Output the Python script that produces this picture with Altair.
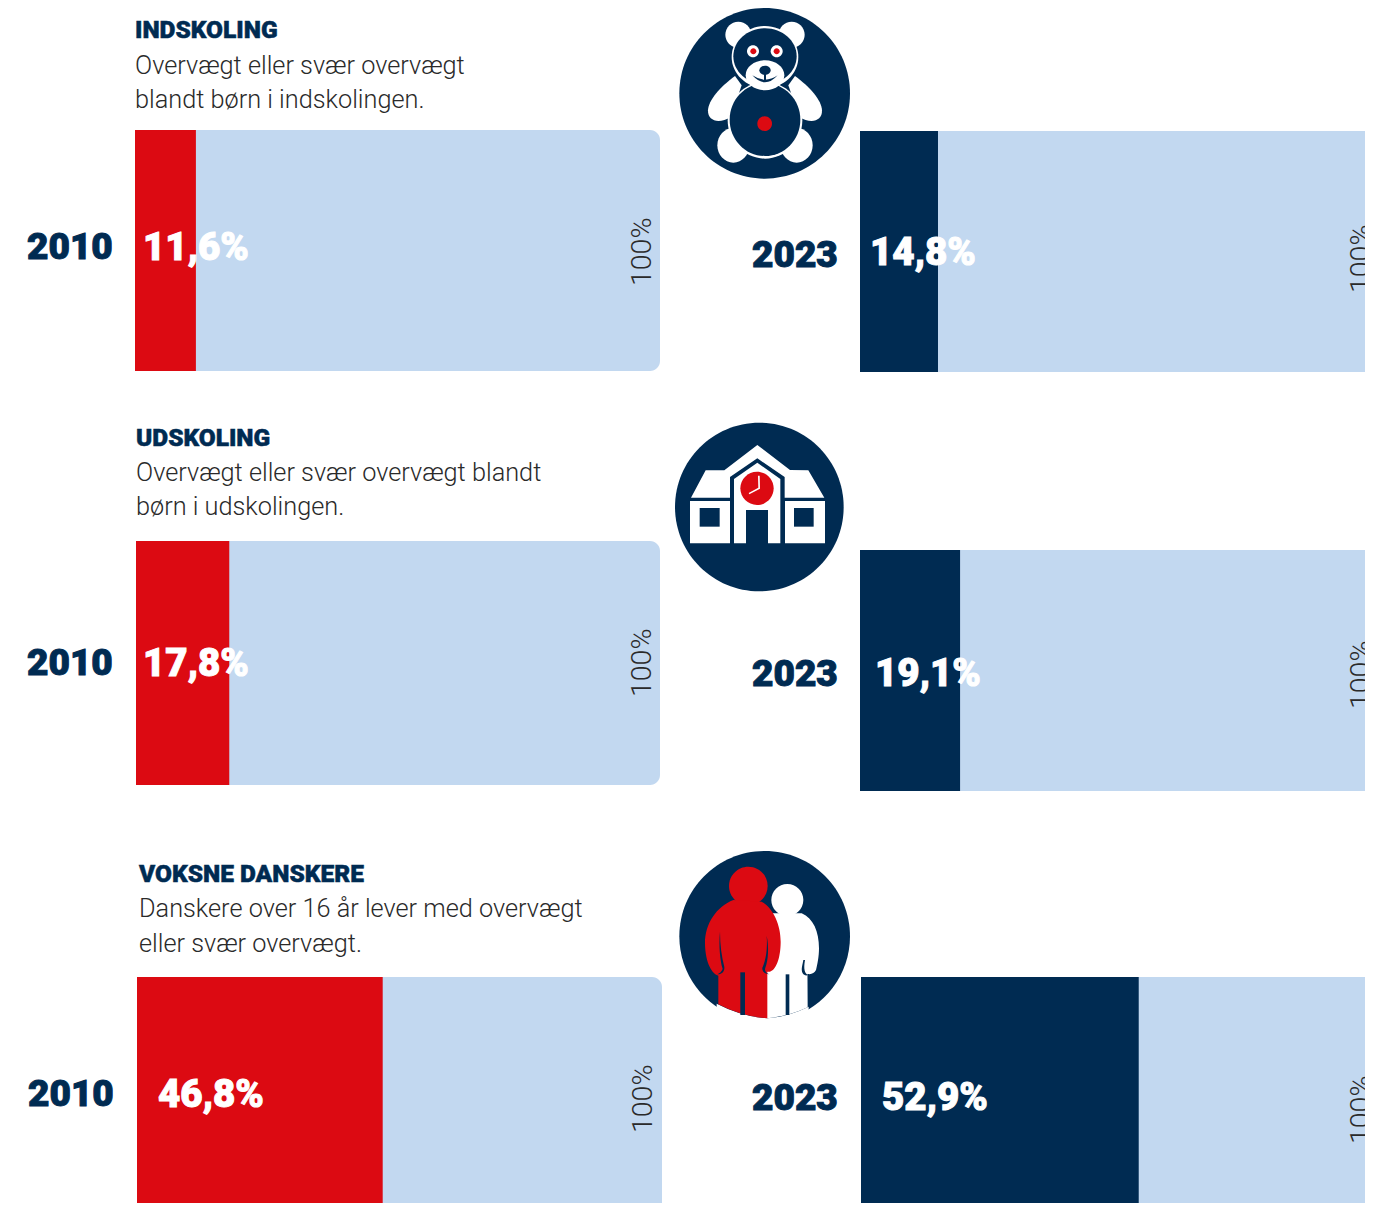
import altair as alt
import pandas as pd

# ---------- data ----------
groups = ["INDSKOLING", "UDSKOLING", "VOKSNE DANSKERE"]
descriptions = [
    ["Overvægt eller svær overvægt", "blandt børn i indskolingen."],
    ["Overvægt eller svær overvægt blandt", "børn i udskolingen."],
    ["Danskere over 16 år lever med overvægt", "eller svær overvægt."],
]
years = ["2010", "2023"]
values_2010 = [11.6, 17.8, 46.8]
values_2023 = [14.8, 19.1, 52.9]
total = 100

# ---------- style ----------
RED = "#DC0A12"
NAVY = "#002B52"
LIGHT = "#C2D8F0"
TEXT = "#2A2A2A"
OFF = 8  # page margin

# ---------- layout (image pixels) ----------
bar_left = [
    dict(x0=135, x1=660, y0=130, y1=371, head=(135, 38), lines=[(135, 74), (135, 108)],
         year=(27, 259), pct=(143, 260), full=(651, 286)),
    dict(x0=136, x1=660, y0=541, y1=785, head=(136, 446), lines=[(136, 481), (136, 515)],
         year=(27, 675), pct=(143, 676), full=(651, 697)),
    dict(x0=137, x1=662, y0=977, y1=1260, head=(139, 882), lines=[(139, 917), (139, 952)],
         year=(28, 1106), pct=(158, 1107), full=(652, 1133)),
]
bar_right = [
    dict(x0=860, x1=1387, y0=131, y1=372, year=(752, 267), pct=(870, 265), full=(1370, 293)),
    dict(x0=860, x1=1384, y0=550, y1=791, year=(752, 686), pct=(875, 686), full=(1370, 709)),
    dict(x0=861, x1=1386, y0=977, y1=1260, year=(752, 1110), pct=(882, 1110), full=(1370, 1144)),
]

one = pd.DataFrame({"a": [0]})
layers = []


def bar(geo, value, color, rounded=False):
    df = pd.DataFrame({"start": [0], "value": [value]})
    opts = dict(color=color, clip=True)
    if rounded:
        opts.update(cornerRadiusTopRight=10, cornerRadiusBottomRight=10)
    return alt.Chart(df).mark_rect(**opts).encode(
        x=alt.X("start:Q", axis=None,
                scale=alt.Scale(domain=[0, total], range=[geo["x0"] - OFF, geo["x1"] - OFF])),
        x2="value:Q",
        y=alt.value(geo["y0"] - OFF),
        y2=alt.value(geo["y1"] - OFF),
    )


def text(label, pos, color, size, weight, angle=None, bold=0):
    opts = dict(color=color, fontSize=size, fontWeight=weight, font="Roboto", align="left",
                baseline="alphabetic", clip=True)
    if angle is not None:
        opts["angle"] = angle
    if bold:
        opts.update(stroke=color, strokeWidth=bold)
    return alt.Chart(pd.DataFrame({"t": [label]})).mark_text(**opts).encode(
        x=alt.value(pos[0] - OFF), y=alt.value(pos[1] - OFF), text="t:N")


def shape(path, origin, color):
    # path coordinates are three times image pixels: sqrt(size)/2 = 1/3
    return alt.Chart(one).mark_point(shape=path, size=4 / 9, filled=True, color=color,
                                     opacity=1, clip=True).encode(
        x=alt.value(origin[0] - OFF), y=alt.value(origin[1] - OFF))


def ell(cx, cy, rx, ry=None):
    ry = rx if ry is None else ry
    return (f"M{cx - rx} {cy}A{rx} {ry} 0 1 1 {cx + rx} {cy}"
            f"A{rx} {ry} 0 1 1 {cx - rx} {cy}Z")


def poly(*pts):
    return "M" + "L".join(f"{x} {y}" for x, y in pts) + "Z"


# ---------- bars and labels ----------
for i, grp in enumerate(groups):
    L, R = bar_left[i], bar_right[i]
    layers += [bar(L, total, LIGHT, rounded=True), bar(L, values_2010[i], RED)]
    layers += [bar(R, total, LIGHT, rounded=True), bar(R, values_2023[i], NAVY)]
    layers.append(text(grp, L["head"], NAVY, 24.5, 900, bold=0.5))
    for line, pos in zip(descriptions[i], L["lines"]):
        layers.append(text(line, pos, TEXT, 25.3, 300))
    for geo, yr, val in ((L, years[0], values_2010[i]), (R, years[1], values_2023[i])):
        layers.append(text(yr, geo["year"], NAVY, 37, 900, bold=1))
        layers.append(text(f"{val:.1f}%".replace(".", ","), geo["pct"], "#FFFFFF", 38.5, 900, bold=1))
        layers.append(text(f"{total}%", geo["full"], TEXT, 28.5, 300, angle=270))

# ---------- teddy icon ----------
o = (670, 2)
W = "#FFFFFF"
teddy = [
    (ell(284, 274, 256), NAVY),
    (ell(205, 98, 39), W), (ell(365, 98, 39), W),
    ("M195 222C150 255 115 295 114 325C113 360 150 365 182 345L215 250Z", W),
    ("M375 222C420 255 455 295 456 325C457 360 420 365 388 345L355 250Z", W),
    (ell(190, 430, 48, 52), W), (ell(380, 430, 48, 52), W),
    (ell(285, 355, 112, 115), W),
    (ell(285, 353, 106, 109), NAVY),
    (ell(285, 165, 100, 93), W),
    (ell(285, 163, 95, 84), NAVY),
    (ell(285, 220, 58, 45), W),
    (ell(285, 205, 17, 14), NAVY),
    ("M247 220Q285 262 323 220Q285 246 247 220Z", NAVY),
    (poly((282, 210), (288, 210), (288, 240), (282, 240)), NAVY),
    (ell(249, 148, 18), W), (ell(320, 148, 18), W),
    (ell(250, 148, 9), RED), (ell(320, 148, 9), RED),
    (ell(284, 365, 22), RED),
]
layers += [shape(p, o, c) for p, c in teddy]

# ---------- school icon ----------
o = (665, 415)
school = [
    (ell(283, 276, 253), NAVY),
    (poly((78, 248), (122, 166), (178, 166), (277, 90), (375, 165), (430, 166), (478, 248),
          (359, 248), (359, 186), (277, 130), (195, 186), (195, 248)), W),
    (poly((207, 192), (277, 143), (346, 192), (346, 385), (309, 385), (309, 285), (243, 285),
          (243, 385), (207, 385)), W),
    (poly((75, 258), (195, 258), (195, 385), (75, 385)), W),
    (poly((104, 279), (164, 279), (164, 335), (104, 335)), NAVY),
    (poly((360, 258), (480, 258), (480, 385), (360, 385)), W),
    (poly((387, 279), (446, 279), (446, 335), (387, 335)), NAVY),
    (ell(276, 220, 50), RED),
    (poly((279, 182), (284, 182), (285, 221), (253, 238), (251, 234), (280, 218)), W),
]
layers += [shape(p, o, c) for p, c in school]

# ---------- people icon ----------
o = (670, 845)
people = [
    (ell(284, 274, 256), NAVY),
    ("M140 476Q215 515 292 520Q355 515 416 485L416 540L140 540Z", W),
    (ell(352, 165, 48), W),
    ("M320 205L395 205C430 220 447 260 447 310C447 335 442 360 438 375C430 392 405 392 398 372"
     "C396 355 405 340 412 318L413 487Q355 515 290 520L290 205Z", W),
    (poly((347, 388), (358, 388), (358, 510), (347, 510)), NAVY),
    ("M400 345C398 360 392 372 398 385C402 392 410 392 414 390C404 385 400 372 405 345Z", NAVY),
    (ell(235, 123, 58), RED),
    ("M190 165L275 170C310 190 332 240 332 290C332 330 322 372 300 380L292 380L292 520"
     "Q215 515 145 478L145 392C120 385 105 340 105 295C105 235 140 185 190 165Z", RED),
    (poly((211, 382), (225, 382), (225, 510), (211, 510)), NAVY),
    ("M150 260C146 300 150 345 158 372C155 380 148 386 142 388C158 388 164 378 163 366"
     "C155 335 150 300 150 260Z", NAVY),
    ("M290 272C293 310 288 345 277 368C276 378 282 386 298 388C288 384 283 376 286 368"
     "C295 345 297 305 290 272Z", NAVY),
]
layers += [shape(p, o, c) for p, c in people]

chart = (
    alt.layer(*layers)
    .resolve_scale(x="independent")
    .properties(width=1357, height=1195, padding=0,
                autosize=alt.AutoSizeParams(type="none"), background="#FFFFFF")
    .configure_view(stroke=None)
)

chart.save("out.html", embed_options={"renderer": "svg", "actions": False})
